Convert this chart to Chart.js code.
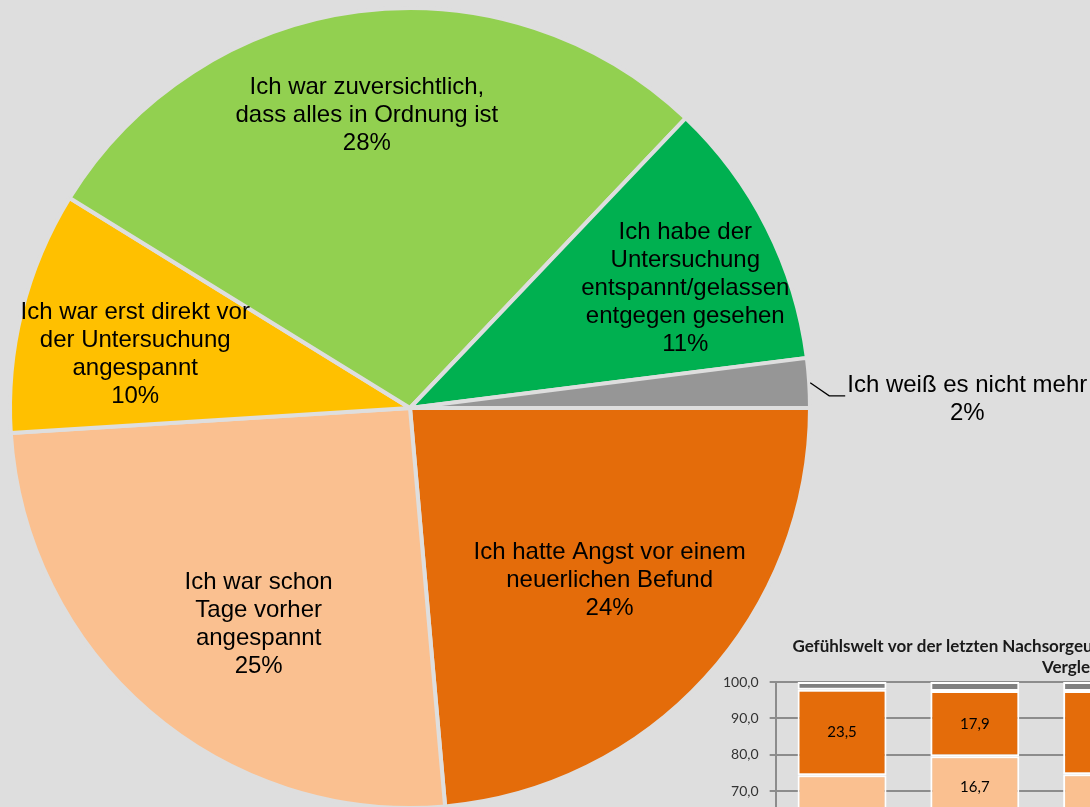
<!DOCTYPE html>
<html>
<head>
<meta charset="utf-8">
<script src="https://cdn.jsdelivr.net/npm/chart.js@4.4.1/dist/chart.umd.min.js"></script>
<style>
  html, body { margin: 0; padding: 0; background: #dedede; overflow: hidden; width: 1090px; height: 807px; }
  #pieWrap { position: absolute; left: 0; top: 0; width: 1090px; height: 820px; }
  #barWrap { position: absolute; left: 700px; top: 628px; width: 754px; height: 455px; }
</style>
</head>
<body>
<div id="pieWrap"><canvas id="pieChart"></canvas></div>
<div id="barWrap"><canvas id="barChart"></canvas></div>
<script>
// pie: order clockwise from 3 o'clock
const pieLabels = [
  ['Ich hatte Angst vor einem', 'neuerlichen Befund'],
  ['Ich war schon', 'Tage vorher', 'angespannt'],
  ['Ich war erst direkt vor', 'der Untersuchung', 'angespannt'],
  ['Ich war zuversichtlich,', 'dass alles in Ordnung ist'],
  ['Ich habe der', 'Untersuchung', 'entspannt/gelassen', 'entgegen gesehen'],
  ['Ich weiß es nicht mehr']
];
const pieValues = [23.6, 25.4, 9.8, 28.3, 10.9, 2.0];
const pieColors = ['#e46c0a', '#fac090', '#ffc000', '#92d050', '#00b050', '#969696'];
// label placement: fraction of radius, angle shift in degrees
const pieLabelPlace = [
  { r: 0.66, shift: -1.6 },
  { r: 0.66, shift: -5.7 },
  { r: 0.70, shift: -3 },
  { r: 0.74, shift: -1 },
  { r: 0.75, shift: 3.4 },
  { outside: true }
];

// stacked bars (small chart in the corner)
const barCategories = ['Gruppe 1', 'Gruppe 2', 'Gruppe 3'];
const barEntspannt = [11.0, 13.5, 11.4];
const barZuversichtlich = [28.5, 38.4, 28.1];
const barDirektVor = [9.9, 11.0, 9.6];
const barTageVorher = [25.0, 16.7, 25.6];
const barAngst = [23.5, 17.9, 22.8];
const barWeissNicht = [2.1, 2.5, 2.5];
const barTitle = ['Gefühlswelt vor der letzten Nachsorgeuntersuchung nach Altersgruppen im', 'Vergleich'];

const pieLabelPlugin = {
  id: 'pieLabelPlugin',
  afterDatasetsDraw(chart) {
    const ctx = chart.ctx;
    const meta = chart.getDatasetMeta(0);
    const lineH = 28;
    ctx.save();
    ctx.font = '24px "Liberation Sans", Arial, sans-serif';
    ctx.fillStyle = '#000';
    ctx.textBaseline = 'middle';
    meta.data.forEach((arc, i) => {
      const p = arc.getProps(['x', 'y', 'startAngle', 'endAngle', 'outerRadius'], true);
      const lines = pieLabels[i].concat(Math.round(pieValues[i]) + '%');
      const place = pieLabelPlace[i];
      const mid = (p.startAngle + p.endAngle) / 2;
      if (place.outside) {
        const sx = p.x + (p.outerRadius + 1) * Math.cos(mid);
        const sy = p.y + (p.outerRadius + 1) * Math.sin(mid);
        const bx = sx + 19, by = sy + 13;
        const ex = bx + 16;
        ctx.strokeStyle = '#000';
        ctx.lineWidth = 1.3;
        ctx.beginPath();
        ctx.moveTo(sx, sy);
        ctx.lineTo(bx, by);
        ctx.lineTo(ex, by);
        ctx.stroke();
        const w = ctx.measureText(lines[0]).width;
        const cx = ex + 2 + w / 2;
        ctx.textAlign = 'center';
        lines.forEach((t, j) => ctx.fillText(t, cx, by - 10 + j * lineH));
        return;
      }
      const a = mid + place.shift * Math.PI / 180;
      const r = p.outerRadius * place.r;
      const cx = p.x + r * Math.cos(a);
      const cy = p.y + r * Math.sin(a);
      const top = cy - (lines.length - 1) * lineH / 2;
      ctx.textAlign = 'center';
      lines.forEach((t, j) => ctx.fillText(t, cx, top + j * lineH));
    });
    ctx.restore();
  }
};

new Chart(document.getElementById('pieChart'), {
  type: 'pie',
  data: {
    labels: pieLabels.map(l => l.join(' ')),
    datasets: [{
      data: pieValues,
      backgroundColor: pieColors,
      borderColor: '#dedede',
      borderWidth: 4
    }]
  },
  options: {
    responsive: true,
    maintainAspectRatio: false,
    animation: false,
    rotation: 90,
    radius: 400,
    layout: { padding: { left: 9, top: 7, right: 279, bottom: 11 } },
    plugins: { legend: { display: false }, tooltip: { enabled: false } }
  },
  plugins: [pieLabelPlugin]
});

const barExtras = {
  id: 'barExtras',
  beforeDraw(chart) {
    const ctx = chart.ctx;
    ctx.save();
    ctx.font = 'bold 17px Lato, "Liberation Sans", sans-serif';
    ctx.fillStyle = '#1a1a1a';
    ctx.textAlign = 'center';
    ctx.textBaseline = 'middle';
    barTitle.forEach((t, j) => ctx.fillText(t, chart.width / 2, 19 + j * 21));
    ctx.restore();
  },
  afterDatasetsDraw(chart) {
    const ctx = chart.ctx;
    ctx.save();
    ctx.font = '15px Lato, "Liberation Sans", sans-serif';
    ctx.fillStyle = '#000';
    ctx.textAlign = 'center';
    ctx.textBaseline = 'middle';
    chart.data.datasets.forEach((ds, di) => {
      if (!ds.showValue) return;
      chart.getDatasetMeta(di).data.forEach((bar, i) => {
        const p = bar.getProps(['x', 'y', 'base'], true);
        ctx.fillText(ds.data[i].toFixed(1).replace('.', ','), p.x, (p.y + p.base) / 2);
      });
    });
    ctx.restore();
  }
};

const seg = (label, data, color, showValue) => ({
  label, data, backgroundColor: color, borderColor: '#ffffff', borderWidth: 2,
  borderSkipped: false, showValue
});

new Chart(document.getElementById('barChart'), {
  type: 'bar',
  data: {
    labels: barCategories,
    datasets: [
      seg('entspannt/gelassen', barEntspannt, '#00b050', true),
      seg('zuversichtlich', barZuversichtlich, '#92d050', true),
      seg('erst direkt vor der Untersuchung', barDirektVor, '#ffc000', true),
      seg('schon Tage vorher', barTageVorher, '#fac090', true),
      seg('Angst vor neuerlichem Befund', barAngst, '#e46c0a', true),
      seg('weiß nicht mehr', barWeissNicht, '#808080', false)
    ]
  },
  options: {
    responsive: true,
    maintainAspectRatio: false,
    animation: false,
    categoryPercentage: 1,
    barPercentage: 0.67,
    layout: { padding: { left: 12, top: 54, right: 280, bottom: 6 } },
    plugins: { legend: { display: false }, tooltip: { enabled: false } },
    scales: {
      x: {
        stacked: true,
        grid: { display: false },
        border: { display: false },
        ticks: { font: { family: 'Lato', size: 14 }, color: '#404040' }
      },
      y: {
        stacked: true,
        min: 0,
        max: 100,
        ticks: {
          stepSize: 10,
          padding: 11,
          font: { family: 'Lato', size: 14 },
          color: '#333333',
          callback: v => v.toFixed(1).replace('.', ',')
        },
        grid: { color: '#8c8c8c', lineWidth: 2, tickLength: 6 },
        border: { color: '#8c8c8c', width: 2 }
      }
    }
  },
  plugins: [barExtras]
});
</script>
</body>
</html>
